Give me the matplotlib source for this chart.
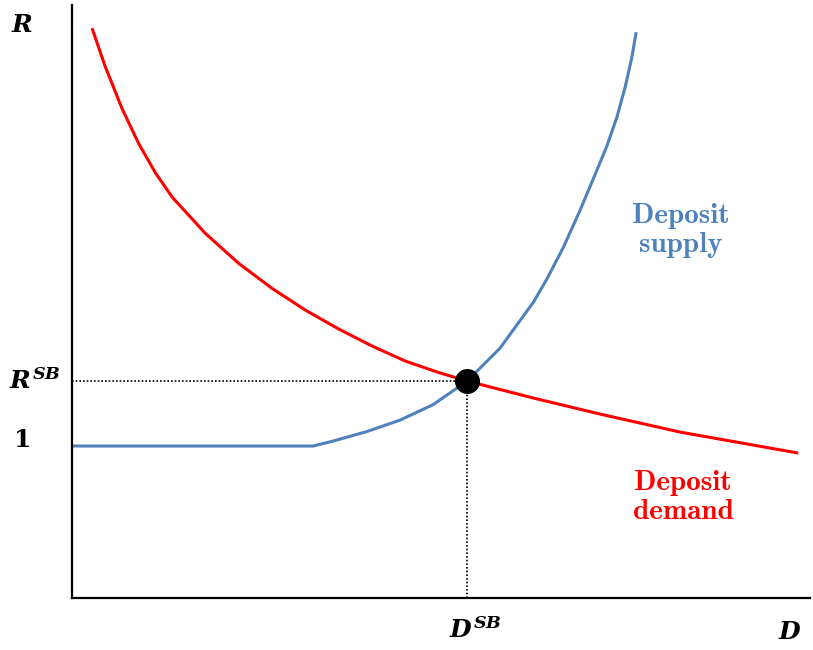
import matplotlib.pyplot as plt

plt.rcParams['mathtext.fontset'] = 'custom'
plt.rcParams['mathtext.it'] = 'DejaVu Serif:italic:bold'
plt.rcParams['mathtext.rm'] = 'DejaVu Serif:bold'

# values (arbitrary units)
demand_x = [0.271, 0.451, 0.678, 0.904, 1.129, 1.355, 1.806, 2.259, 2.710, 3.161,
            3.614, 4.065, 4.516, 4.969, 5.352, 6.251, 7.154, 8.238, 9.837]
demand_y = [7.690, 7.168, 6.604, 6.130, 5.739, 5.412, 4.920, 4.515, 4.178, 3.885,
            3.629, 3.400, 3.197, 3.042, 2.928, 2.698, 2.482, 2.239, 1.956]

supply_x = [0.0, 3.266, 3.537, 3.993, 4.444, 4.892, 5.352, 5.799, 6.251, 6.432,
            6.657, 6.883, 7.110, 7.245, 7.381, 7.493, 7.584, 7.642]
supply_y = [2.051, 2.051, 2.118, 2.246, 2.401, 2.610, 2.928, 3.373, 3.993, 4.304,
            4.735, 5.234, 5.774, 6.098, 6.489, 6.894, 7.299, 7.636]

eq_x, eq_y = 5.352, 2.928

fig = plt.figure(figsize=(8.13, 6.5), dpi=100)
ax = fig.add_axes([0.0886, 0.08, 0.908, 0.912])

ax.plot(demand_x, demand_y, color='#FF0000', lw=2.2, solid_capstyle='butt', solid_joinstyle='round')
ax.plot(supply_x, supply_y, color='#4F81BD', lw=2.2, solid_capstyle='butt', solid_joinstyle='round')

# dotted guides to the equilibrium
ax.plot([0, eq_x], [eq_y, eq_y], color='black', lw=1.2, ls=(0, (1, 1.2)))
ax.plot([eq_x, eq_x], [0, eq_y], color='black', lw=1.2, ls=(0, (1, 1.2)))
ax.plot([eq_x], [eq_y], 'o', color='black', ms=17, zorder=5)

ax.set_xlim(0, 10)
ax.set_ylim(0, 8)
ax.set_xticks([])
ax.set_yticks([])
for side in ['top', 'right']:
    ax.spines[side].set_visible(False)
for side in ['left', 'bottom']:
    ax.spines[side].set_linewidth(1.6)

lab = dict(fontsize=18, ha='center', va='center', clip_on=False)
ax.text(-0.68, 7.73, r'$R$', **lab)
ax.text(-0.50, 2.93, r'$R^{SB}$', **lab)
ax.text(-0.68, 2.13, r'$\mathrm{1}$', **lab)
ax.text(5.46, -0.43, r'$D^{SB}$', **lab)
ax.text(9.73, -0.46, r'$D$', **lab)

ax.text(8.25, 4.96, 'Deposit\nsupply', color='#4F81BD', family='cmb10',
        fontsize=21, ha='center', va='center', linespacing=1.15)
ax.text(8.28, 1.36, 'Deposit\ndemand', color='#FF0000', family='cmb10',
        fontsize=21, ha='center', va='center', linespacing=1.15)

fig.savefig('out.png', dpi=100)
